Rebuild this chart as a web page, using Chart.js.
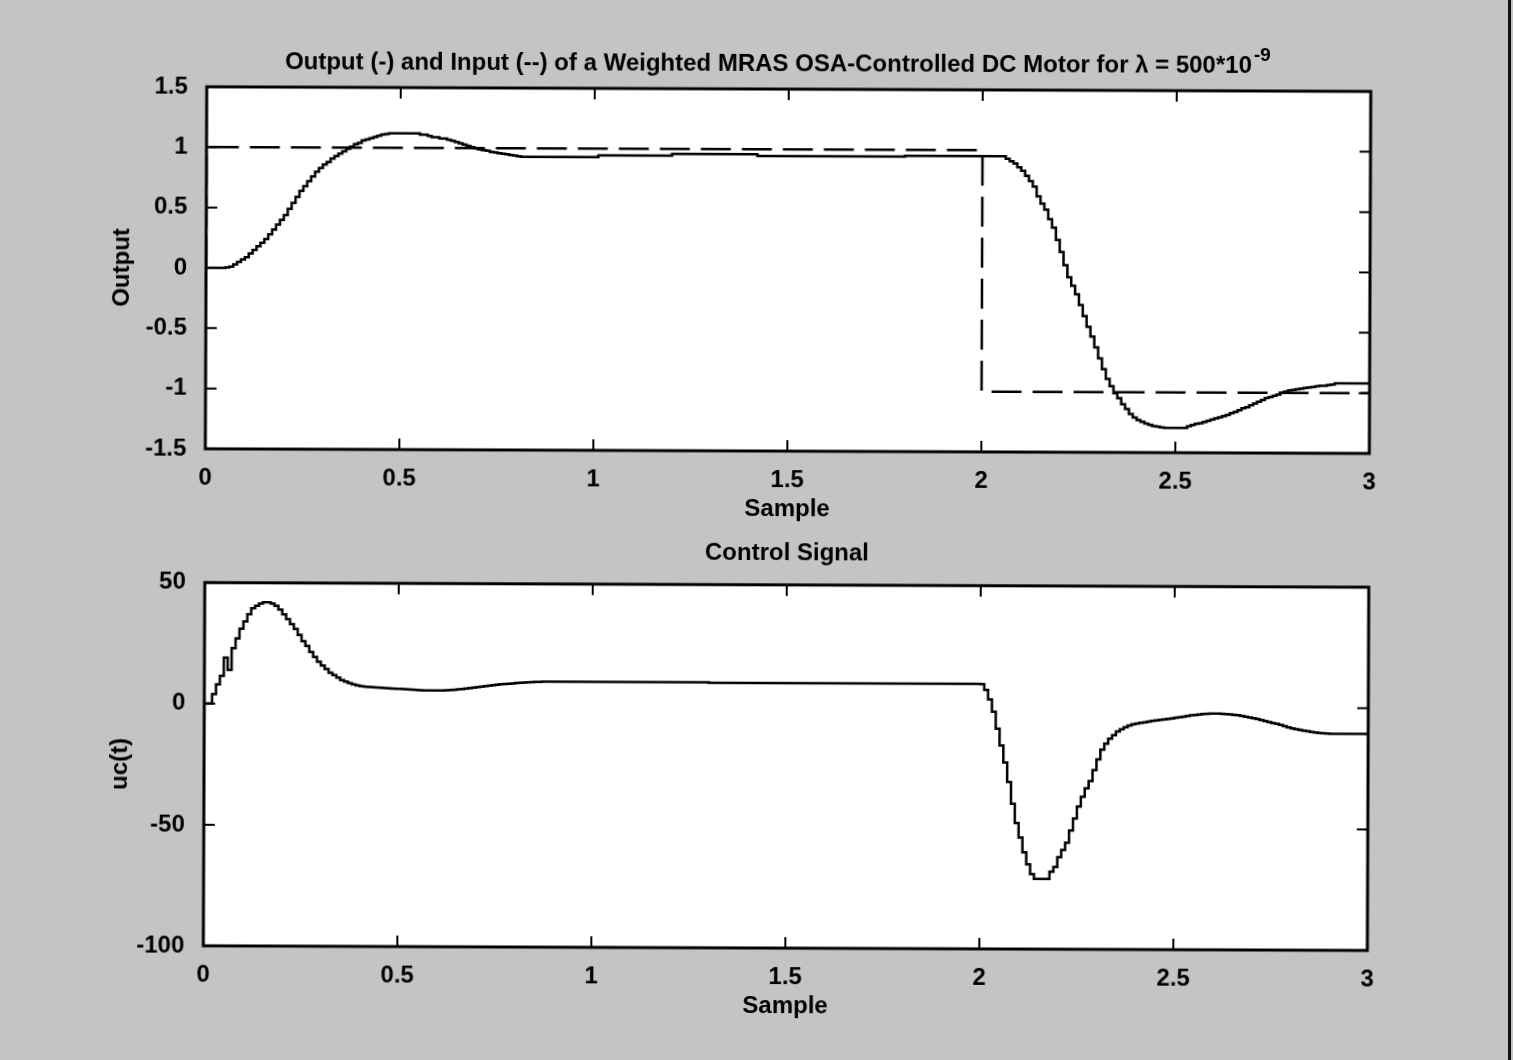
<!DOCTYPE html>
<html lang="en">
<head>
    <meta charset="UTF-8">
    <title>Weighted MRAS OSA-Controlled DC Motor</title>
    <script src="https://cdn.jsdelivr.net/npm/chart.js"></script>
    <style>
        html, body { margin: 0; padding: 0; }
        body {
            width: 1513px;
            height: 1060px;
            overflow: hidden;
            background: #c4c4c4;
            position: relative;
        }
        #sheet {
            position: absolute;
            left: 0;
            top: 0;
            width: 1552px;
            height: 1060px;
            transform: rotate(0.23deg);
            transform-origin: 756px 530px;
        }
        #sheet canvas { position: absolute; left: 0; }
        #edge {
            position: absolute;
            left: 1508px;
            top: 0;
            width: 3px;
            height: 1060px;
            background: #111;
        }
    </style>
</head>
<body>
    <div id="sheet">
        <canvas id="outputChart" width="1552" height="530" style="top:0"></canvas>
        <canvas id="controlChart" width="1552" height="530" style="top:530px"></canvas>
    </div>
    <div id="edge"></div>

    <script>
        // sample period of the simulation
        const dt = 0.01;

        // motor output y(t), one value per sample from t = 0 to t = 3
        const outputValues = [
            0, 0, 0, 0, 0, 0.005, 0.01, 0.03, 0.05, 0.07,
            0.09, 0.12, 0.15, 0.18, 0.21, 0.24, 0.28, 0.32, 0.36, 0.40,
            0.44, 0.49, 0.54, 0.59, 0.64, 0.68, 0.72, 0.76, 0.80, 0.83,
            0.86, 0.88, 0.91, 0.93, 0.95, 0.97, 0.99, 1.01, 1.03, 1.04,
            1.06, 1.07, 1.08, 1.09, 1.10, 1.11, 1.115, 1.12, 1.12, 1.12,
            1.12, 1.12, 1.12, 1.12, 1.12, 1.11, 1.11, 1.10, 1.09, 1.09,
            1.08, 1.08, 1.07, 1.06, 1.05, 1.04, 1.03, 1.02, 1.01, 1.00,
            0.99, 0.985, 0.98, 0.97, 0.965, 0.96, 0.955, 0.95, 0.945, 0.94,
            0.935, 0.93, 0.93, 0.93, 0.93, 0.93, 0.93, 0.93, 0.93, 0.93,
            0.93, 0.93, 0.93, 0.93, 0.93, 0.93, 0.93, 0.93, 0.93, 0.93,
            0.93, 0.945, 0.945, 0.945, 0.945, 0.945, 0.945, 0.945, 0.945, 0.945,
            0.945, 0.945, 0.945, 0.945, 0.945, 0.945, 0.945, 0.945, 0.945, 0.945,
            0.96, 0.96, 0.96, 0.96, 0.96, 0.96, 0.96, 0.96, 0.96, 0.96,
            0.96, 0.96, 0.96, 0.96, 0.96, 0.96, 0.96, 0.96, 0.96, 0.96,
            0.96, 0.96, 0.945, 0.945, 0.945, 0.945, 0.945, 0.945, 0.945, 0.945,
            0.945, 0.945, 0.945, 0.945, 0.945, 0.945, 0.945, 0.945, 0.945, 0.945,
            0.945, 0.945, 0.945, 0.945, 0.945, 0.945, 0.945, 0.945, 0.945, 0.945,
            0.945, 0.945, 0.945, 0.945, 0.945, 0.945, 0.945, 0.945, 0.945, 0.945,
            0.95, 0.95, 0.95, 0.95, 0.95, 0.95, 0.95, 0.95, 0.95, 0.95,
            0.95, 0.95, 0.95, 0.95, 0.95, 0.95, 0.95, 0.95, 0.95, 0.95,
            0.95, 0.95, 0.95, 0.95, 0.95, 0.95, 0.93, 0.91, 0.89, 0.86,
            0.83, 0.79, 0.745, 0.70, 0.62, 0.56, 0.51, 0.43, 0.36, 0.26,
            0.16, 0.05, -0.05, -0.12, -0.19, -0.28, -0.37, -0.46, -0.54, -0.63,
            -0.72, -0.81, -0.89, -0.95, -1.01, -1.05, -1.10, -1.14, -1.18, -1.21,
            -1.23, -1.245, -1.26, -1.27, -1.28, -1.285, -1.29, -1.295, -1.295, -1.295,
            -1.295, -1.295, -1.295, -1.28, -1.27, -1.26, -1.255, -1.245, -1.235, -1.225,
            -1.215, -1.205, -1.195, -1.185, -1.17, -1.16, -1.145, -1.13, -1.12, -1.105,
            -1.09, -1.075, -1.06, -1.045, -1.035, -1.025, -1.015, -1.0, -0.99, -0.98,
            -0.975, -0.97, -0.965, -0.96, -0.955, -0.95, -0.945, -0.94, -0.94, -0.935,
            -0.93, -0.92, -0.92, -0.92, -0.92, -0.92, -0.92, -0.92, -0.92, -0.92,
            -0.92
        ];

        // square-wave reference input (dashed)
        const inputTimes = [0, 0, 2, 2, 3];
        const inputValues = [0, 1, 1, -1, -1];

        // control signal uc(t), one value per sample
        const controlValues = [
            0, 0, 4, 8, 11.5, 19, 14, 23, 27, 31,
            34, 37, 39.5, 40.5, 41.5, 42, 42, 41.5, 40.5, 39,
            37, 35, 33, 31, 28.5, 26, 24, 21.5, 19.5, 17.5,
            16, 14.5, 13, 12, 11, 10, 9.3, 8.7, 8.2, 7.8,
            7.5, 7.3, 7.2, 7.1, 7.0, 6.9, 6.8, 6.7, 6.6, 6.5,
            6.4, 6.3, 6.2, 6.1, 6.0, 5.9, 5.8, 5.8, 5.8, 5.8,
            5.8, 5.8, 5.9, 6.0, 6.1, 6.3, 6.5, 6.7, 6.9, 7.1,
            7.3, 7.5, 7.7, 7.9, 8.1, 8.3, 8.5, 8.6, 8.7, 8.8,
            9.0, 9.1, 9.2, 9.3, 9.4, 9.5, 9.5, 9.6, 9.6, 9.6,
            9.6, 9.6, 9.6, 9.6, 9.6, 9.6, 9.6, 9.6, 9.6, 9.6,
            9.6, 9.6, 9.6, 9.6, 9.6, 9.6, 9.6, 9.6, 9.6, 9.6,
            9.6, 9.6, 9.6, 9.6, 9.6, 9.6, 9.6, 9.6, 9.6, 9.6,
            9.6, 9.6, 9.6, 9.6, 9.6, 9.6, 9.6, 9.6, 9.6, 9.6,
            9.4, 9.4, 9.4, 9.4, 9.4, 9.4, 9.4, 9.4, 9.4, 9.4,
            9.4, 9.4, 9.4, 9.4, 9.4, 9.4, 9.4, 9.4, 9.4, 9.4,
            9.4, 9.4, 9.4, 9.4, 9.4, 9.4, 9.4, 9.4, 9.4, 9.4,
            9.4, 9.4, 9.4, 9.4, 9.4, 9.4, 9.4, 9.4, 9.4, 9.4,
            9.4, 9.4, 9.4, 9.4, 9.4, 9.4, 9.4, 9.4, 9.4, 9.4,
            9.4, 9.4, 9.4, 9.4, 9.4, 9.4, 9.4, 9.4, 9.4, 9.4,
            9.4, 9.4, 9.4, 9.4, 9.4, 9.4, 9.4, 9.4, 9.4, 9.4,
            9.3, 7, 3, -2, -9, -16, -23, -31, -40, -48,
            -54, -60, -65, -69, -71, -71, -71, -71, -68, -66,
            -62, -59, -56, -51, -46, -41, -37, -33.5, -30.5, -26,
            -21.5, -17.5, -15, -13, -11.5, -10, -9, -8.2, -7.5, -7,
            -6.7, -6.4, -6.1, -5.8, -5.5, -5.3, -5.1, -4.9, -4.7, -4.5,
            -4.2, -4.0, -3.8, -3.5, -3.2, -3.0, -2.8, -2.6, -2.5, -2.4,
            -2.4, -2.4, -2.5, -2.6, -2.7, -2.9, -3.1, -3.4, -3.7, -4.0,
            -4.3, -4.6, -5.0, -5.4, -5.8, -6.2, -6.6, -7.0, -7.5, -8.0,
            -8.4, -8.7, -9.0, -9.3, -9.6, -9.9, -10.1, -10.3, -10.4, -10.5,
            -10.6, -10.6, -10.6, -10.6, -10.6, -10.6, -10.6, -10.6, -10.6, -10.6,
            -10.6
        ];

        const outputTicks = { min: -1.5, max: 1.5, step: 0.5 };
        const controlTicks = { min: -100, max: 50, step: 50 };
        const sampleTicks = { min: 0, max: 3, step: 0.5 };

        // figure title, with the exponent raised after it
        const figureTitle = 'Output (-) and Input (--) of a Weighted MRAS OSA-Controlled DC Motor for λ = 500*10';
        const titleExponent = '-9';

        const font = { family: "'Liberation Sans', Arial, sans-serif", size: 24, weight: 'bold' };

        // white axes box with inward tick marks on all four sides
        const boxAxes = {
            id: 'boxAxes',
            beforeDraw(chart) {
                const a = chart.chartArea;
                chart.ctx.save();
                chart.ctx.fillStyle = '#fff';
                chart.ctx.fillRect(a.left, a.top, a.width, a.height);
                chart.ctx.restore();
            },
            afterDraw(chart) {
                const { ctx, chartArea: a, scales } = chart;
                const len = 11;
                ctx.save();
                ctx.strokeStyle = '#000';
                ctx.lineWidth = 2;
                ctx.beginPath();
                scales.x.ticks.forEach(t => {
                    const px = scales.x.getPixelForValue(t.value);
                    ctx.moveTo(px, a.bottom); ctx.lineTo(px, a.bottom - len);
                    ctx.moveTo(px, a.top); ctx.lineTo(px, a.top + len);
                });
                scales.y.ticks.forEach(t => {
                    const py = scales.y.getPixelForValue(t.value);
                    ctx.moveTo(a.left, py); ctx.lineTo(a.left + len, py);
                    ctx.moveTo(a.right, py); ctx.lineTo(a.right - len, py);
                });
                ctx.stroke();
                ctx.lineWidth = 3;
                ctx.strokeRect(a.left, a.top, a.width, a.height);
                ctx.restore();
            }
        };

        // title line with a superscript exponent
        const expTitle = {
            id: 'expTitle',
            afterDraw(chart) {
                const ctx = chart.ctx;
                const base = 71;
                ctx.save();
                ctx.fillStyle = '#000';
                ctx.textBaseline = 'alphabetic';
                ctx.textAlign = 'left';
                ctx.font = `bold 24px ${font.family}`;
                const mainW = ctx.measureText(figureTitle).width;
                ctx.font = `bold 19px ${font.family}`;
                const expW = ctx.measureText(titleExponent).width;
                const x0 = 776 - (mainW + expW + 2) / 2;
                ctx.font = `bold 24px ${font.family}`;
                ctx.fillText(figureTitle, x0, base);
                ctx.font = `bold 19px ${font.family}`;
                ctx.fillText(titleExponent, x0 + mainW + 2, base - 12);
                ctx.restore();
            }
        };

        const plainNumber = v => String(Math.round(v * 100) / 100);

        function toPoints(values) {
            return values.map((v, i) => ({ x: i * dt, y: v }));
        }

        function makeScales(yTicks, yTitle, xAxisHeight, xTitlePad) {
            return {
                x: {
                    type: 'linear',
                    min: sampleTicks.min,
                    max: sampleTicks.max,
                    grid: { display: false },
                    border: { display: false },
                    ticks: { stepSize: sampleTicks.step, color: '#000', font: font, padding: 7, maxRotation: 0, callback: plainNumber },
                    title: { display: true, text: 'Sample', color: '#000', font: font, padding: { top: 0, bottom: xTitlePad } },
                    afterFit: scale => { scale.height = xAxisHeight; }
                },
                y: {
                    min: yTicks.min,
                    max: yTicks.max,
                    grid: { display: false },
                    border: { display: false },
                    ticks: { stepSize: yTicks.step, color: '#000', font: font, padding: 11, callback: plainNumber },
                    title: { display: true, text: yTitle, color: '#000', font: font, padding: { top: 107, bottom: 0 } },
                    afterFit: scale => { scale.width = 205; }
                }
            };
        }

        const outputCtx = document.getElementById('outputChart').getContext('2d');
        new Chart(outputCtx, {
            type: 'line',
            data: {
                datasets: [
                    {
                        label: 'Output',
                        data: toPoints(outputValues),
                        stepped: true,
                        borderColor: '#000',
                        borderWidth: 2.5,
                        pointRadius: 0,
                        fill: false
                    },
                    {
                        label: 'Input',
                        data: inputTimes.map((t, i) => ({ x: t, y: inputValues[i] })),
                        borderColor: '#000',
                        borderWidth: 2.5,
                        borderDash: [30, 11],
                        pointRadius: 0,
                        fill: false
                    }
                ]
            },
            options: {
                responsive: false,
                animation: false,
                devicePixelRatio: 1,
                layout: { padding: { left: 0, right: 183, top: 89, bottom: 0 } },
                plugins: {
                    legend: { display: false },
                    tooltip: { enabled: false },
                    title: { display: false }
                },
                scales: makeScales(outputTicks, 'Output', 79, 6)
            },
            plugins: [boxAxes, expTitle]
        });

        const controlCtx = document.getElementById('controlChart').getContext('2d');
        new Chart(controlCtx, {
            type: 'line',
            data: {
                datasets: [{
                    label: 'uc(t)',
                    data: toPoints(controlValues),
                    stepped: true,
                    borderColor: '#000',
                    borderWidth: 2.5,
                    pointRadius: 0,
                    fill: false
                }]
            },
            options: {
                responsive: false,
                animation: false,
                devicePixelRatio: 1,
                layout: { padding: { left: 0, right: 183, top: 0, bottom: 0 } },
                plugins: {
                    legend: { display: false },
                    tooltip: { enabled: false },
                    title: {
                        display: true,
                        fullSize: false,
                        text: 'Control Signal',
                        color: '#000',
                        font: font,
                        padding: { top: 9, bottom: 17 }
                    }
                },
                scales: makeScales(controlTicks, 'uc(t)', 112, 39)
            },
            plugins: [boxAxes]
        });
    </script>
</body>
</html>
